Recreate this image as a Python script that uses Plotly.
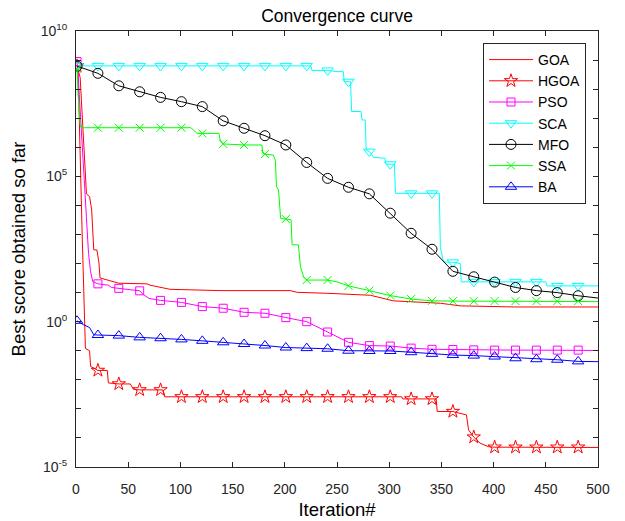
import plotly.graph_objects as go

# ---------------- data ----------------
marker_iters = list(range(1, 500, 20))  # 1, 21, ..., 481

goa_iter = [1, 4, 10, 13, 15, 16, 17, 20, 22, 23, 34, 41, 68, 71, 90, 138, 205, 212, 240, 282, 304, 349, 368, 420, 500]
goa_val = [6.3e8, 2.5e8, 2.5e4, 2.0e4, 7.1e3, 760, 295, 295, 105, 32, 25, 21, 20, 18, 13, 11.7, 11.7, 10.2, 9.5, 8.1, 5.2, 4.3, 3.5, 3.2, 3.2]

hgoa_iter = [1, 2, 6, 9, 13, 14, 21, 30, 31, 41, 52, 55, 61, 81, 83, 85, 101, 121, 141, 161, 181, 201, 221, 241, 261, 281, 301, 312,
             313, 321, 341, 345, 346, 361, 374, 376, 381, 387, 395, 401, 421, 441, 461, 481, 500]
hgoa_val = [6.3e8, 4.0e8, 760, 0.12, 0.10, 0.029, 0.021, 0.021, 0.0078, 0.0072, 0.0072, 0.0047, 0.0045, 0.0045, 0.0045, 0.0026,
            0.0026, 0.0026, 0.0026, 0.0026, 0.0026, 0.0026, 0.0026, 0.0026, 0.0026, 0.0026, 0.0026, 0.0026,
            0.0022, 0.0022, 0.0022, 0.0022, 8.1e-4, 8.1e-4, 6.2e-4, 1.9e-4, 1.07e-4, 6.6e-5, 5.0e-5, 4.8e-5, 4.8e-5, 4.8e-5,
            4.8e-5, 4.8e-5, 4.7e-5]

pso_iter = [1, 2, 10, 12, 14, 16, 21, 31, 34, 41, 61, 64, 70, 81, 101, 121, 141, 161, 181, 201, 221, 241, 261, 281, 301, 321, 341,
            361, 381, 401, 421, 441, 461, 481, 500]
pso_val = [8.9e8, 3.2e8, 3.8e3, 224, 52, 24, 20, 18, 15, 14, 11.5, 8.9, 6.3, 5.4, 4.6, 3.3, 2.9, 2.1, 1.95, 1.38, 1.0, 0.44, 0.195,
           0.15, 0.145, 0.123, 0.112, 0.11, 0.107, 0.105, 0.105, 0.105, 0.105, 0.105, 0.102]

sca_iter = [1, 21, 41, 61, 81, 101, 121, 141, 161, 181, 201, 221, 225, 226, 241, 250, 256, 257, 261, 263, 264, 273, 274, 277,
            278, 281, 285, 296, 297, 301, 305, 306, 321, 341, 348, 349, 352, 361, 368, 369, 381, 401, 421, 441, 450, 451, 461,
            481, 500]
sca_val = [6.3e8, 6.3e8, 6.3e8, 6.3e8, 6.3e8, 6.3e8, 6.3e8, 6.3e8, 6.3e8, 6.3e8, 6.3e8, 6.3e8, 6.3e8, 4.4e8, 4.4e8, 4.0e8,
           4.0e8, 1.8e8, 1.8e8, 1.8e8, 1.7e7, 1.7e7, 8.7e6, 8.7e6, 7.9e5, 7.1e5, 4.5e5, 4.2e5, 2.6e5, 2.6e5, 2.6e5, 2.6e4,
           2.6e4, 2.6e4, 2.6e4, 363, 115, 110, 100, 23.4, 23.4, 23.4, 23.4, 23.4, 23.4, 17, 17, 17, 17]

mfo_iter = [1, 21, 41, 61, 81, 101, 121, 141, 161, 181, 201, 221, 241, 261, 281, 301, 321, 341, 361, 381, 401, 421, 441, 461,
            481, 500]
mfo_val = [6.2e8, 3.5e8, 1.3e8, 8.1e7, 5.2e7, 3.7e7, 2.5e7, 8.1e6, 4.5e6, 2.5e6, 1.2e6, 3.0e5, 8.5e4, 4.2e4, 2.5e4, 5.4e3,
           1.1e3, 310, 54, 35, 23, 15, 11.7, 10, 7.8, 6.5]

ssa_iter = [1, 2, 4, 5, 21, 41, 61, 81, 101, 110, 116, 121, 137, 138, 141, 161, 178, 179, 181, 189, 191, 192, 194, 196, 201,
            206, 207, 213, 215, 218, 221, 241, 250, 261, 281, 301, 321, 341, 361, 381, 401, 421, 441, 461, 481, 500]
ssa_val = [5.0e8, 6.5e7, 6.0e6, 4.7e6, 4.7e6, 4.7e6, 4.7e6, 4.7e6, 4.7e6, 4.7e6, 3.0e6, 3.0e6, 3.0e6, 1.8e6, 1.3e6, 1.2e6,
           1.2e6, 6.2e5, 5.8e5, 5.4e5, 3.5e5, 4.4e4, 3.4e4, 3.6e3, 3.4e3, 3.2e3, 440, 440, 78, 35, 27, 27, 23.4, 17, 11.7,
           7.9, 6.0, 5.2, 5.1, 5.1, 5.1, 5.1, 5.1, 5.1, 5.1, 4.9]

ba_iter = [1, 7, 13, 17, 21, 41, 61, 81, 101, 121, 141, 161, 181, 201, 221, 241, 261, 281, 301, 321, 341, 361, 381, 401, 421,
           441, 461, 481, 500]
ba_val = [1.07, 0.79, 0.63, 0.355, 0.347, 0.331, 0.288, 0.269, 0.245, 0.219, 0.195, 0.170, 0.151, 0.129, 0.123, 0.117, 0.100,
          0.098, 0.098, 0.089, 0.078, 0.071, 0.068, 0.063, 0.055, 0.051, 0.049, 0.043, 0.042]

y_exponents = list(range(-5, 11))
y_labelled = [-5, 0, 5, 10]

# ---------------- styling ----------------
FONT = "Liberation Sans, Arial, Helvetica, sans-serif"
AX = "#262626"

series = [
    ("GOA", goa_iter, goa_val, "#ff0000", None, 10),
    ("HGOA", hgoa_iter, hgoa_val, "#ff0000", "star-open", 10),
    ("PSO", pso_iter, pso_val, "#ff00ff", "square-open", 8),
    ("SCA", sca_iter, sca_val, "#00ffff", "triangle-down-open", 10),
    ("MFO", mfo_iter, mfo_val, "#000000", "circle-open", 10),
    ("SSA", ssa_iter, ssa_val, "#00ff00", "x-thin-open", 8),
    ("BA", ba_iter, ba_val, "#0000ff", "triangle-up-open", 10),
]

fig = go.Figure()
for name, xs, ys, col, sym, msz in series:
    fig.add_trace(go.Scatter(x=xs, y=ys, mode="lines", line=dict(color=col, width=1), name=name,
                             showlegend=(sym is None), legendgroup=name, hoverinfo="skip"))
    if sym is not None:
        mx = [x for x in xs if x in marker_iters]
        my = [y for x, y in zip(xs, ys) if x in marker_iters]
        fig.add_trace(go.Scatter(x=mx, y=my, mode="markers",
                                 marker=dict(symbol=sym, size=msz, color=col, line=dict(color=col, width=1)),
                                 showlegend=False, legendgroup=name))
        fig.add_trace(go.Scatter(x=[None], y=[None], name=name, legendgroup=name,
                                 mode="lines+markers", line=dict(color=col, width=1),
                                 marker=dict(symbol=sym, size=msz, color=col, line=dict(color=col, width=1))))

fig.update_layout(
    width=625, height=521,
    margin=dict(l=76, r=27, t=31, b=54),
    paper_bgcolor="white", plot_bgcolor="white",
    font=dict(family=FONT, color=AX, size=14),
    title=dict(text="Convergence curve", x=(76 + 598) / 2 / 625, xanchor="center",
               y=1 - 16 / 521, yanchor="middle", yref="container",
               font=dict(size=17.5, color="#000000", family=FONT)),
    legend=dict(x=(483 - 76) / 522, y=1 - (43 - 31) / 436, xanchor="left", yanchor="top",
                bordercolor=AX, borderwidth=1, bgcolor="white",
                font=dict(size=14, color="#000000", family=FONT),
                traceorder="normal", itemwidth=44),
    showlegend=True,
)
fig.update_xaxes(range=[0, 500], dtick=50, tick0=0, ticks="inside", ticklen=5, tickcolor=AX,
                 showline=True, linecolor=AX, linewidth=1, mirror="ticks", showgrid=False, zeroline=False,
                 ticklabelstandoff=9, automargin=False,
                 title=dict(text="Iteration#", font=dict(size=18.5, color="#000000", family=FONT), standoff=7))
fig.update_yaxes(type="log", range=[-5, 10],
                 tickvals=[10.0 ** e for e in y_exponents],
                 ticktext=[("10<sup>%d</sup>" % e) if e in y_labelled else "" for e in y_exponents],
                 ticks="inside", ticklen=5, tickcolor=AX,
                 showline=True, linecolor=AX, linewidth=1, mirror="ticks", showgrid=False, zeroline=False,
                 ticklabelstandoff=5, automargin=False,
                 title=dict(text="Best score obtained so far", font=dict(size=18.5, color="#000000", family=FONT),
                            standoff=10))

fig.write_html("out.html", config={"displayModeBar": False},
               post_script="document.body.style.margin='0px';")
